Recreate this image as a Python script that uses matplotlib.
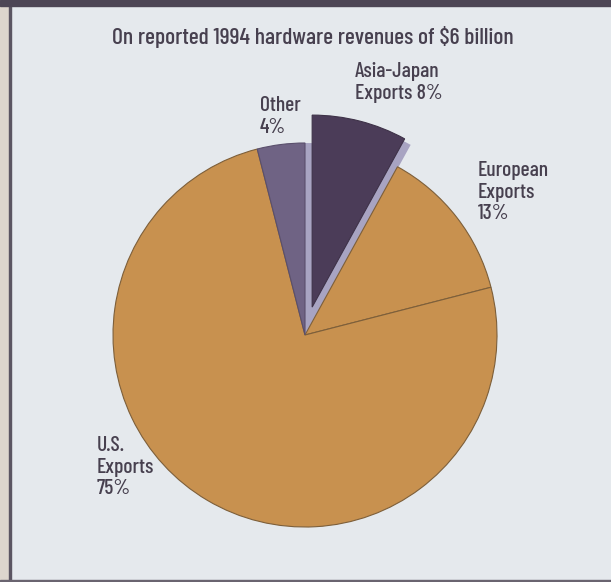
import matplotlib
matplotlib.use("Agg")
import numpy as np
import matplotlib.pyplot as plt
from matplotlib.patches import Wedge, Rectangle
from matplotlib import font_manager

# Data
categories = ["Asia-Japan Exports", "European Exports", "U.S. Exports", "Other"]
shares = [8, 13, 75, 4]
labels = ["Asia-Japan\nExports 8%", "European\nExports\n13%", "U.S.\nExports\n75%", "Other\n4%"]
explode = [0.15, 0.0, 0.0, 0.0]
title = "On reported 1994 hardware revenues of $6 billion"

# Styling
colors = ["#4b3c58", "#c8914f", "#c8914f", "#6f6384"]
side_color = "#a8a4c2"
bg_color = "#e5e9ed"
text_color = "#47404f"

names = {f.name for f in font_manager.fontManager.ttflist}
family = [f for f in ["Barlow Condensed", "Sofia Sans Condensed", "DejaVu Sans"] if f in names] or ["DejaVu Sans"]
plt.rcParams["font.family"] = family

W, H, DPI = 611, 582, 100
fig = plt.figure(figsize=(W / DPI, H / DPI), dpi=DPI)
fig.patch.set_facecolor(bg_color)

# Page frame
fig.patches.append(Rectangle((0, 0), 9 / W, 1, transform=fig.transFigure, color="#ddd6cd", zorder=0))
fig.patches.append(Rectangle((9 / W, 0), 2 / W, 1, transform=fig.transFigure, color="#5b5562", zorder=1))
fig.patches.append(Rectangle((0, 1 - 6 / H), 1, 6 / H, transform=fig.transFigure, color="#4d4655", zorder=1))
fig.patches.append(Rectangle((0, 0), 1, 2 / H, transform=fig.transFigure, color="#6a6470", zorder=1))

# Axes mapped so the pie (radius 1) is centred at pixel (305, 335) with radius 192 px
cx, cy, R = 305, 335, 192
ax = fig.add_axes([0, 0, 1, 1])
ax.set_aspect("equal")
ax.axis("off")

total = sum(shares)
asia_span = 360 * shares[0] / total
theta1, theta2 = 90 - asia_span, 90

# Side faces of the raised slice: fill the gap it leaves and a thin edge below it
mid = np.radians((theta1 + theta2) / 2)
ox, oy = explode[0] * np.cos(mid), explode[0] * np.sin(mid)
ax.add_patch(Wedge((0, 0), 1.0, theta1, theta2, facecolor=side_color, edgecolor="none", zorder=1))
ax.add_patch(Wedge((ox + 6 / R, oy - 6 / R), 1.0, theta1, theta2, facecolor=side_color,
                   edgecolor="none", zorder=1))

wedges, _ = ax.pie(shares, explode=explode, colors=colors, startangle=90, counterclock=False,
                   radius=1.0, center=(0, 0),
                   wedgeprops=dict(edgecolor="#7d5f3a", linewidth=0.8))
ax.set_xlim(-cx / R, (W - cx) / R)
ax.set_ylim(-(H - cy) / R, cy / R)
for w in wedges:
    w.set_zorder(2)
wedges[0].set_edgecolor("#3e3248")
wedges[3].set_edgecolor("#5a4f6c")


def px(x, y):
    return ((x - cx) / R, (cy - y) / R)


fs = 15.5
kw = dict(ha="left", va="top", fontsize=fs, color=text_color, linespacing=1.18, fontweight="medium")
fig.text(313 / W, 1 - 37 / H, title, ha="center", va="center", fontsize=17, color=text_color,
         fontweight="medium")
ax.text(*px(355, 62), labels[0], **kw)
ax.text(*px(478, 161), labels[1], **kw)
ax.text(*px(97, 436), labels[2], **kw)
ax.text(*px(260, 96), labels[3], **kw)

fig.savefig("out.png", dpi=DPI, facecolor=fig.get_facecolor())
